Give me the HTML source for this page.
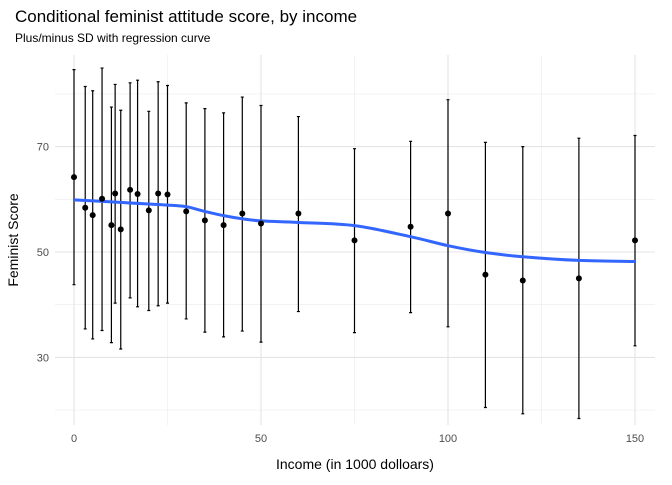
<!DOCTYPE html>
<html><head><meta charset="utf-8"><style>
body{margin:0;background:#fff;font-family:"Liberation Sans",sans-serif}
</style></head><body>
<svg width="672" height="480" xmlns="http://www.w3.org/2000/svg" font-family="Liberation Sans, sans-serif">
<text x="15" y="22" font-size="17" fill="#000">Conditional feminist attitude score, by income</text>
<text x="15" y="42" font-size="12" fill="#000">Plus/minus SD with regression curve</text>
<g id="grid"></g>
<g id="axes"></g>
<g id="bars"></g>
<path id="curve" fill="none" stroke="#3366FF" stroke-width="3"/>
<g id="pts"></g>
<text x="355" y="469" font-size="14" text-anchor="middle">Income (in 1000 dolloars)</text>
<text transform="translate(18,240) rotate(-90)" font-size="14" text-anchor="middle">Feminist Score</text>
</svg>
<script>
const incomes=[0,3,5,7.5,10,11,12.5,15,17,20,22.5,25,30,35,40,45,50,60,75,90,100,110,120,135,150];
const means=[64.2,58.4,57.0,60.1,55.1,61.1,54.3,61.8,61.0,57.9,61.1,60.9,57.7,56.0,55.1,57.3,55.4,57.3,52.2,54.8,57.3,45.7,44.6,45.0,52.2];
const uppers=[84.6,81.4,80.6,84.9,77.5,81.8,76.9,82.1,82.6,76.7,82.3,81.6,78.3,77.2,76.4,79.4,77.8,75.7,69.6,71.0,78.9,70.8,70.0,71.6,72.1];
const lowers=[43.8,35.4,33.5,35.1,32.8,40.3,31.6,41.3,39.6,38.9,39.8,40.3,37.3,34.8,33.9,35.0,32.9,38.7,34.7,38.5,35.8,20.5,19.3,18.4,32.2];
const curveX=[0,10,20,25,30,35,40,45,50,60,75,90,100,110,120,135,150];
const curveY=[59.9,59.5,59.1,58.9,58.6,57.7,56.9,56.3,55.9,55.6,55.0,52.9,51.2,49.9,49.1,48.4,48.2];
const xTicks=[0,50,100,150];
const yTicks=[30,50,70];
const sx=v=>74+v*(635-74)/150;
const sy=v=>252-(v-50)*5.27;
const NS="http://www.w3.org/2000/svg";
function mk(parent,tag,attrs){const e=document.createElementNS(NS,tag);for(const k in attrs)e.setAttribute(k,attrs[k]);document.getElementById(parent).appendChild(e);return e;}
const L=55,R=655,T=55,B=425;
[20,40,60,80].forEach(v=>{const e=mk('grid','line',{x1:L,x2:R,y1:sy(v),y2:sy(v),stroke:'#ebebeb','stroke-width':0.6});

});
[25,75,125].forEach(v=>{const e=mk('grid','line',{x1:sx(v),x2:sx(v),y1:T,y2:B,stroke:'#ebebeb','stroke-width':0.6});

});
yTicks.forEach(v=>{const e=mk('grid','line',{x1:L,x2:R,y1:sy(v),y2:sy(v),stroke:'#e4e4e4','stroke-width':1.1});


const t=mk('axes','text',{x:49,y:sy(v)+4,'font-size':11,fill:'#4d4d4d','text-anchor':'end'});t.textContent=v;

});
xTicks.forEach(v=>{const e=mk('grid','line',{x1:sx(v),x2:sx(v),y1:T,y2:B,stroke:'#e4e4e4','stroke-width':1.1});


const t=mk('axes','text',{x:sx(v),y:442,'font-size':11,fill:'#4d4d4d','text-anchor':'middle'});t.textContent=v;

});
incomes.forEach((x,i)=>{const px=sx(x);
const l=mk('bars','path',{d:`M${px},${sy(uppers[i])}V${sy(lowers[i])}M${px-1.5},${sy(uppers[i])}H${px+1.5}M${px-1.5},${sy(lowers[i])}H${px+1.5}`,stroke:'#000','stroke-width':1.2,fill:'none'});


const c=mk('pts','circle',{cx:px,cy:sy(means[i]),r:3,fill:'#000'});

});
let pts=curveX.map((x,i)=>[sx(x),sy(curveY[i])]);
let d=`M${pts[0][0]},${pts[0][1]}`;
for(let i=0;i<pts.length-1;i++){const p0=pts[Math.max(0,i-1)],p1=pts[i],p2=pts[i+1],p3=pts[Math.min(pts.length-1,i+2)];
d+=`C${p1[0]+(p2[0]-p0[0])/6},${p1[1]+(p2[1]-p0[1])/6} ${p2[0]-(p3[0]-p1[0])/6},${p2[1]-(p3[1]-p1[1])/6} ${p2[0]},${p2[1]}`;}
document.getElementById('curve').setAttribute('d',d);
</script>
</body></html>
